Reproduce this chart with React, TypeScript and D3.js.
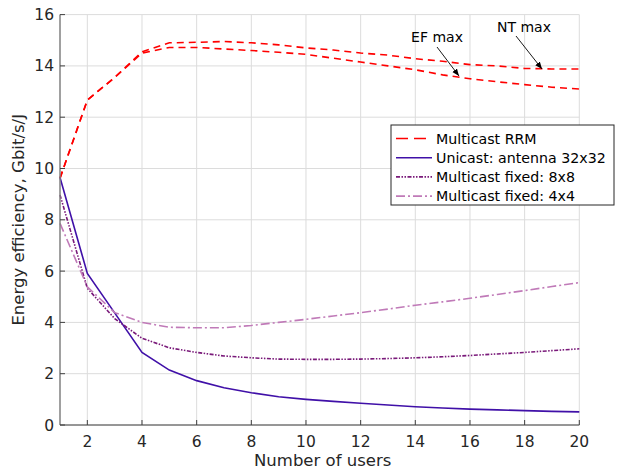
import React from "react";
import * as d3 from "d3";

const users = [1,2,3,4,5,6,7,8,9,10,11,12,13,14,15,16,17,18,19,20];
const rrmNT = [9.62,12.67,13.55,14.55,14.9,14.92,14.95,14.9,14.82,14.7,14.62,14.5,14.42,14.28,14.18,14.05,14.0,13.9,13.88,13.88];
const rrmEF = [9.62,12.67,13.55,14.5,14.72,14.72,14.66,14.6,14.53,14.45,14.3,14.15,14.0,13.85,13.65,13.5,13.38,13.27,13.17,13.1];
const unicast = [9.65,5.91,4.37,2.83,2.14,1.73,1.45,1.26,1.1,1.0,0.92,0.85,0.78,0.71,0.66,0.62,0.59,0.56,0.53,0.51];
const fixed8 = [8.97,5.33,4.15,3.38,3.01,2.83,2.69,2.62,2.57,2.56,2.56,2.57,2.59,2.62,2.66,2.71,2.77,2.83,2.9,2.97];
const fixed4 = [7.86,5.39,4.38,4.0,3.81,3.79,3.79,3.88,4.0,4.12,4.25,4.38,4.52,4.67,4.8,4.94,5.09,5.24,5.4,5.55];
const xTicks = [2,4,6,8,10,12,14,16,18,20];
const yTicks = [0,2,4,6,8,10,12,14,16];
const legendLabels = ["Multicast RRM","Unicast: antenna 32x32","Multicast fixed: 8x8","Multicast fixed: 4x4"];

const W = 620, H = 475;
const L = 60, R = 579.3, T = 14.6, B = 425;
const font = "'DejaVu Sans', Verdana, sans-serif";

export default function App() {
  const x = d3.scaleLinear().domain([1, 20]).range([L, R]);
  const y = d3.scaleLinear().domain([0, 16]).range([B, T]);
  const line = (vals: number[]) =>
    d3.line<number>().x((_, i) => x(users[i])).y((v) => y(v))(vals) || "";

  const series = [
    { vals: rrmNT, color: "#ff0000", dash: "7,5", w: 1.6 },
    { vals: rrmEF, color: "#ff0000", dash: "7,5", w: 1.6 },
    { vals: unicast, color: "#4010a8", dash: "", w: 1.6 },
    { vals: fixed8, color: "#7a1a7a", dash: "4,1.5,1.5,1.5,1.5,1.5", w: 1.6 },
    { vals: fixed4, color: "#c07ab8", dash: "9,3,2,3", w: 1.6 },
  ];
  const legendStyles = [
    { color: "#ff0000", dash: "12,6" },
    { color: "#4010a8", dash: "" },
    { color: "#7a1a7a", dash: "4,1.5,1.5,1.5,1.5,1.5" },
    { color: "#c07ab8", dash: "9,3,2,3" },
  ];

  return (
    <svg width={W} height={H} style={{ position: "absolute", left: 0, top: 0, background: "#fff" }}>
      <defs>
        <marker id="arr" viewBox="0 0 10 10" refX="10" refY="5" markerWidth="8" markerHeight="8" orient="auto">
          <path d="M0,1 L10,5 L0,9 z" fill="#000" />
        </marker>
      </defs>
      <rect x={0} y={0} width={W} height={H} fill="#fff" />
      {xTicks.map((t) => (
        <line key={"gx" + t} x1={x(t)} x2={x(t)} y1={B} y2={T} stroke="#dcdcdc" strokeWidth={1} />
      ))}
      {yTicks.map((t) => (
        <line key={"gy" + t} x1={L} x2={R} y1={y(t)} y2={y(t)} stroke="#dcdcdc" strokeWidth={1} />
      ))}
      {series.map((s, i) => (
        <path key={i} d={line(s.vals)} fill="none" stroke={s.color} strokeWidth={s.w} strokeDasharray={s.dash || undefined} />
      ))}
      {/* axes */}
      <line x1={L} x2={L} y1={T} y2={B} stroke="#808080" strokeWidth={1.5} />
      <line x1={L} x2={R} y1={B} y2={B} stroke="#404040" strokeWidth={1.2} />
      {xTicks.map((t) => (
        <g key={"tx" + t}>
          <line x1={x(t)} x2={x(t)} y1={B} y2={B - 5} stroke="#404040" strokeWidth={1} />
          <text x={x(t)} y={447} textAnchor="middle" fontFamily={font} fontSize={15.5} fill="#262626">{t}</text>
        </g>
      ))}
      {yTicks.map((t) => (
        <g key={"ty" + t}>
          <line x1={L} x2={L + 5} y1={y(t)} y2={y(t)} stroke="#404040" strokeWidth={1} />
          <text x={L - 6} y={y(t) + 5.5} textAnchor="end" fontFamily={font} fontSize={15.5} fill="#262626">{t}</text>
        </g>
      ))}
      <text x={(L + R) / 2 + 3} y={466} textAnchor="middle" fontFamily={font} fontSize={16.5} fill="#262626">Number of users</text>
      <text transform={`translate(24,${(T + B) / 2}) rotate(-90)`} textAnchor="middle" fontFamily={font} fontSize={16.5} fill="#262626">Energy efficiency, Gbit/s/J</text>

      {/* annotations */}
      <text x={437} y={42} textAnchor="middle" fontFamily={font} fontSize={14} fill="#000">EF max</text>
      <line x1={437} y1={47} x2={459} y2={76} stroke="#000" strokeWidth={0.9} markerEnd="url(#arr)" />
      <text x={524} y={32} textAnchor="middle" fontFamily={font} fontSize={14} fill="#000">NT max</text>
      <line x1={516} y1={36} x2={542} y2={69} stroke="#000" strokeWidth={0.9} markerEnd="url(#arr)" />

      {/* legend */}
      <rect x={391} y={125} width={223} height={80} fill="#fff" stroke="#262626" strokeWidth={1} />
      {legendLabels.map((lab, i) => {
        const ly = 138.5 + i * 19.2;
        const st = legendStyles[i];
        return (
          <g key={lab}>
            <line x1={396} x2={432} y1={ly} y2={ly} stroke={st.color} strokeWidth={1.6} strokeDasharray={st.dash || undefined} />
            <text x={436} y={ly + 5} fontFamily={font} fontSize={14.2} fill="#000">{lab}</text>
          </g>
        );
      })}
    </svg>
  );
}
